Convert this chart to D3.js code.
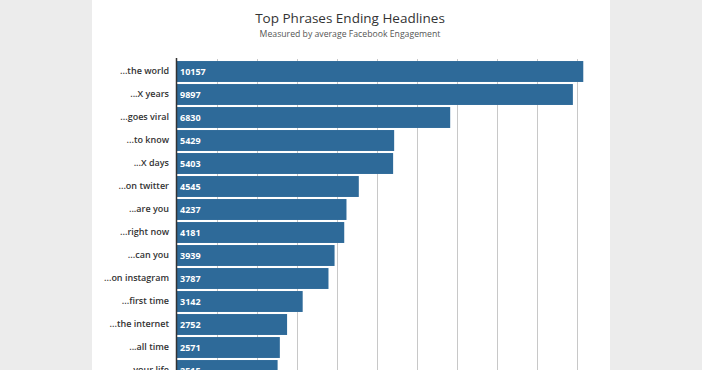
<!DOCTYPE html>
<html><head><meta charset="utf-8">
<script src="https://cdn.jsdelivr.net/npm/d3@7/dist/d3.min.js"></script>
<style>
html,body{margin:0;padding:0;background:#ececec;}
svg{display:block;}
</style></head>
<body>
<script>
const categories = ["...the world","...X years","...goes viral","...to know","...X days","...on twitter","...are you","...right now","...can you","...on instagram","...first time","...the internet","...all time","...your life"];
const values = [10157,9897,6830,5429,5403,4545,4237,4181,3939,3787,3142,2752,2571,2515];
const tickValues = [1000,2000,3000,4000,5000,6000,7000,8000,9000,10000];
const title = "Top Phrases Ending Headlines";
const subtitle = "Measured by average Facebook Engagement";

const W = 702, H = 370;
const svg = d3.select("body").append("svg").attr("width", W).attr("height", H);
svg.append("rect").attr("x",0).attr("y",0).attr("width",W).attr("height",H).attr("fill","#ececec");
svg.append("rect").attr("x",92).attr("y",0).attr("width",518).attr("height",H).attr("fill","#ffffff");

const x = d3.scaleLinear().domain([0,10000]).range([177,577]);
const y = d3.scaleBand().domain(categories).range([60, 60 + 23*categories.length]).paddingInner(0.09).paddingOuter(0.045);

// gridlines
svg.append("g").selectAll("line").data(tickValues).join("line")
  .attr("x1", d=>x(d)+0.5).attr("x2", d=>x(d)+0.5)
  .attr("y1", 59).attr("y2", H)
  .attr("stroke", "#c8c8c8").attr("stroke-width", 1);

// bars
svg.append("g").selectAll("rect").data(values).join("rect")
  .attr("x", x(0))
  .attr("y", (d,i)=>y(categories[i]))
  .attr("width", d=>x(d)-x(0))
  .attr("height", y.bandwidth())
  .attr("fill", "#2e6a99");

// value labels
svg.append("g").selectAll("text").data(values).join("text")
  .attr("x", x(0)+3)
  .attr("y", (d,i)=>y(categories[i]) + y.bandwidth()/2)
  .attr("dy", "0.35em")
  .attr("fill", "#ffffff")
  .attr("font-family", "'Open Sans', sans-serif")
  .attr("font-weight", 700)
  .attr("font-size", "9px")
  .text(d=>d);

// category labels
const yAxis = d3.axisLeft(y).tickSize(0).tickPadding(8);
const ga = svg.append("g").attr("transform", `translate(${x(0)},0)`).call(yAxis);
ga.select(".domain").remove();
ga.selectAll("text").attr("fill","#333").attr("font-family","'Open Sans', sans-serif").attr("font-weight",600).attr("font-size","9px");

// axis line
svg.append("line").attr("x1", x(0)-0.5).attr("x2", x(0)-0.5).attr("y1", 58).attr("y2", H)
  .attr("stroke","#333").attr("stroke-width",1.5);

// title
svg.append("text").attr("x", 350).attr("y", 23).attr("text-anchor","middle")
  .attr("font-family","'Open Sans', sans-serif").attr("font-size","13.5px").attr("fill","#333").text(title);
svg.append("text").attr("x", 350).attr("y", 37).attr("text-anchor","middle")
  .attr("font-family","'Open Sans', sans-serif").attr("font-size","8.7px").attr("fill","#555").text(subtitle);
</script>
</body></html>
